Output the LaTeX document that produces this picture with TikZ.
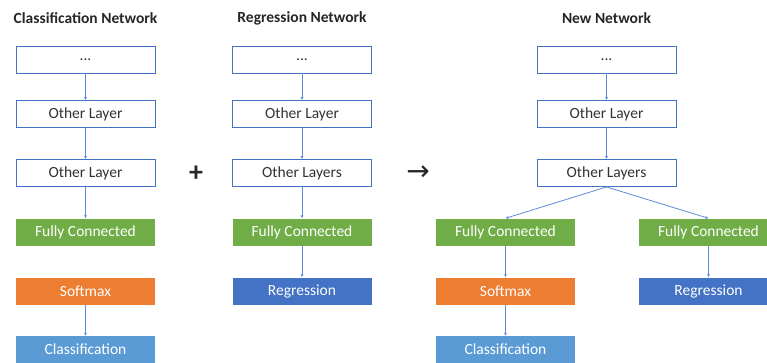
\documentclass[tikz,border=0pt]{standalone}
\usepackage{fontspec}
\setmainfont{Carlito}
\newfontfamily\symfont{DejaVu Sans}
\usetikzlibrary{arrows.meta}
\definecolor{outl}{HTML}{4472C4}
\definecolor{conn}{HTML}{5B8BD9}
\definecolor{fcgreen}{HTML}{70AD47}
\definecolor{smorange}{HTML}{ED7D31}
\definecolor{clsblue}{HTML}{5B9BD5}
\definecolor{regblue}{HTML}{4472C4}
\tikzset{
  layer/.style={draw=outl, line width=0.9pt, fill=white, minimum width=139pt, minimum height=27pt, inner sep=0pt, font=\fontsize{15.5}{17}\selectfont, text=black!80},
  colbox/.style={minimum width=139pt, minimum height=27pt, inner sep=0pt, font=\fontsize{15.5}{17}\selectfont, text=white},
  fc/.style={colbox, fill=fcgreen},
  sm/.style={colbox, fill=smorange},
  cls/.style={colbox, fill=clsblue},
  reg/.style={colbox, fill=regblue},
  ttl/.style={font=\bfseries\fontsize{15.5}{17}\selectfont, text=black!85},
  link/.style={draw=conn, line width=0.8pt, -{Latex[length=3pt,width=3pt]}}
}
\begin{document}
\begin{tikzpicture}[x=1pt,y=-1pt]
\useasboundingbox (0,0) rectangle (767,362);
\begin{scope}
\clip (0,0) rectangle (767,362);
% titles
\node[ttl] (t1) at (85.5,18) {Classification Network};
\node[ttl] (t2) at (302,18) {Regression Network};
\node[ttl] (t3) at (606.5,18) {New Network};
% column 1
\node[layer] (a1) at (85.5,59.5) {...};
\node[layer] (a2) at (85.5,114) {Other Layer};
\node[layer] (a3) at (85.5,173) {Other Layer};
\node[fc] (a4) at (85.5,232) {Fully Connected};
\node[sm] (a5) at (85.5,291) {Softmax};
\node[cls] (a6) at (85.5,349.5) {Classification};
\draw[link] (a1) -- (a2);
\draw[link] (a2) -- (a3);
\draw[link] (a3) -- (a4);
\draw[link] (a5) -- (a6);
% column 2
\node[layer] (b1) at (302,59.5) {...};
\node[layer] (b2) at (302,114) {Other Layer};
\node[layer] (b3) at (302,173) {Other Layers};
\node[fc] (b4) at (302,232) {Fully Connected};
\node[reg] (b5) at (302,291) {Regression};
\draw[link] (b1) -- (b2);
\draw[link] (b2) -- (b3);
\draw[link] (b3) -- (b4);
\draw[link] (b4) -- (b5);
% operators
\node[font=\bfseries\fontsize{28}{30}\selectfont, text=black!85] (plus) at (196,174) {+};
\node[font=\symfont\fontsize{28}{30}\selectfont, text=black!85] (arr) at (418,173) {→};
% new network
\node[layer] (c1) at (606.5,59.5) {...};
\node[layer] (c2) at (606.5,114) {Other Layer};
\node[layer] (c3) at (606.5,173) {Other Layers};
\node[fc] (c4) at (505.5,232) {Fully Connected};
\node[sm] (c5) at (505.5,291) {Softmax};
\node[cls] (c6) at (505.5,349.5) {Classification};
\node[fc] (d4) at (708.5,232) {Fully Connected};
\node[reg] (d5) at (708.5,291) {Regression};
\draw[link] (c1) -- (c2);
\draw[link] (c2) -- (c3);
\draw[link] (c3.south) -- (c4.north);
\draw[link] (c3.south) -- (d4.north);
\draw[link] (c4) -- (c5);
\draw[link] (c5) -- (c6);
\draw[link] (d4) -- (d5);
\end{scope}
\end{tikzpicture}
\end{document}
